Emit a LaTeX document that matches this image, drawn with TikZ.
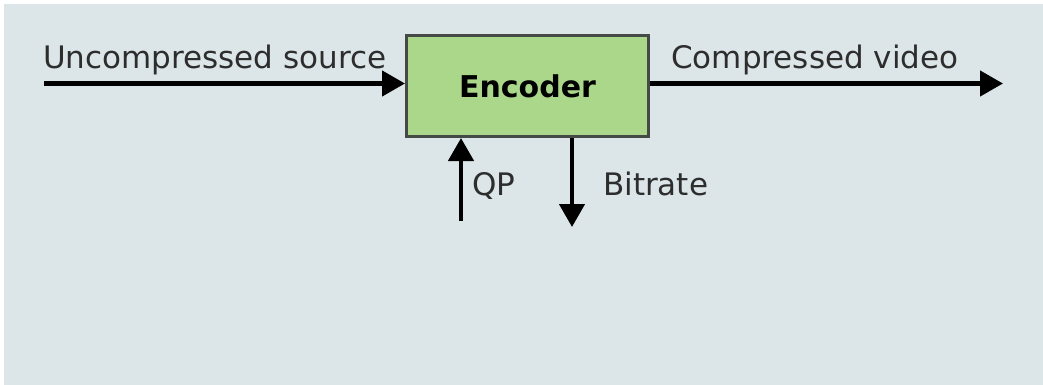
\documentclass[tikz,border=0pt]{standalone}
\usepackage{fontspec}
\setmainfont{DejaVu Sans}
\usetikzlibrary{arrows.meta}
\definecolor{panelbg}{RGB}{220,230,232}
\definecolor{encfill}{RGB}{171,215,138}
\definecolor{encline}{RGB}{70,74,70}
\definecolor{labeltxt}{RGB}{45,45,45}
\tikzset{
  sig/.style={line width=4.5pt,-{Triangle[length=23pt,width=25pt]}},
  lbl/.style={anchor=base west,inner sep=0pt,text=labeltxt,font=\fontsize{31}{37}\selectfont}
}
\begin{document}
\begin{tikzpicture}[x=1pt,y=-1pt]
\useasboundingbox (0,0) rectangle (1043,385);
%Shape: panel
\fill [panelbg] (4,4) rectangle (1043,385);

%Shape: Encoder box
\node (enc) [draw=encline,line width=3pt,fill=encfill,minimum width=242pt,minimum height=101pt,inner sep=0pt,
  font=\fontsize{30}{36}\selectfont\bfseries] at (527.5,86) {Encoder};

%Straight Lines: in / out
\coordinate (src) at (44,83.5);
\coordinate (dst) at (1003,83.5);
\draw [sig] (src) -- (src -| enc.west);
\draw [sig] (dst -| enc.east) -- (dst);

%Straight Lines: QP up, Bitrate down
\coordinate (qp) at (461,221);
\coordinate (br) at (572,227);
\draw [sig] (qp) -- (qp |- enc.south);
\draw [sig] (br |- enc.south) -- (br);

% Text Node
\node (srclbl) [lbl] at (43,69) {Uncompressed source};
% Text Node
\node (dstlbl) [lbl] at (671,69) {Compressed video};
% Text Node
\node (qplbl) [lbl] at (472,195) {QP};
% Text Node
\node (brlbl) [lbl] at (603,195) {Bitrate};
\end{tikzpicture}
\end{document}
